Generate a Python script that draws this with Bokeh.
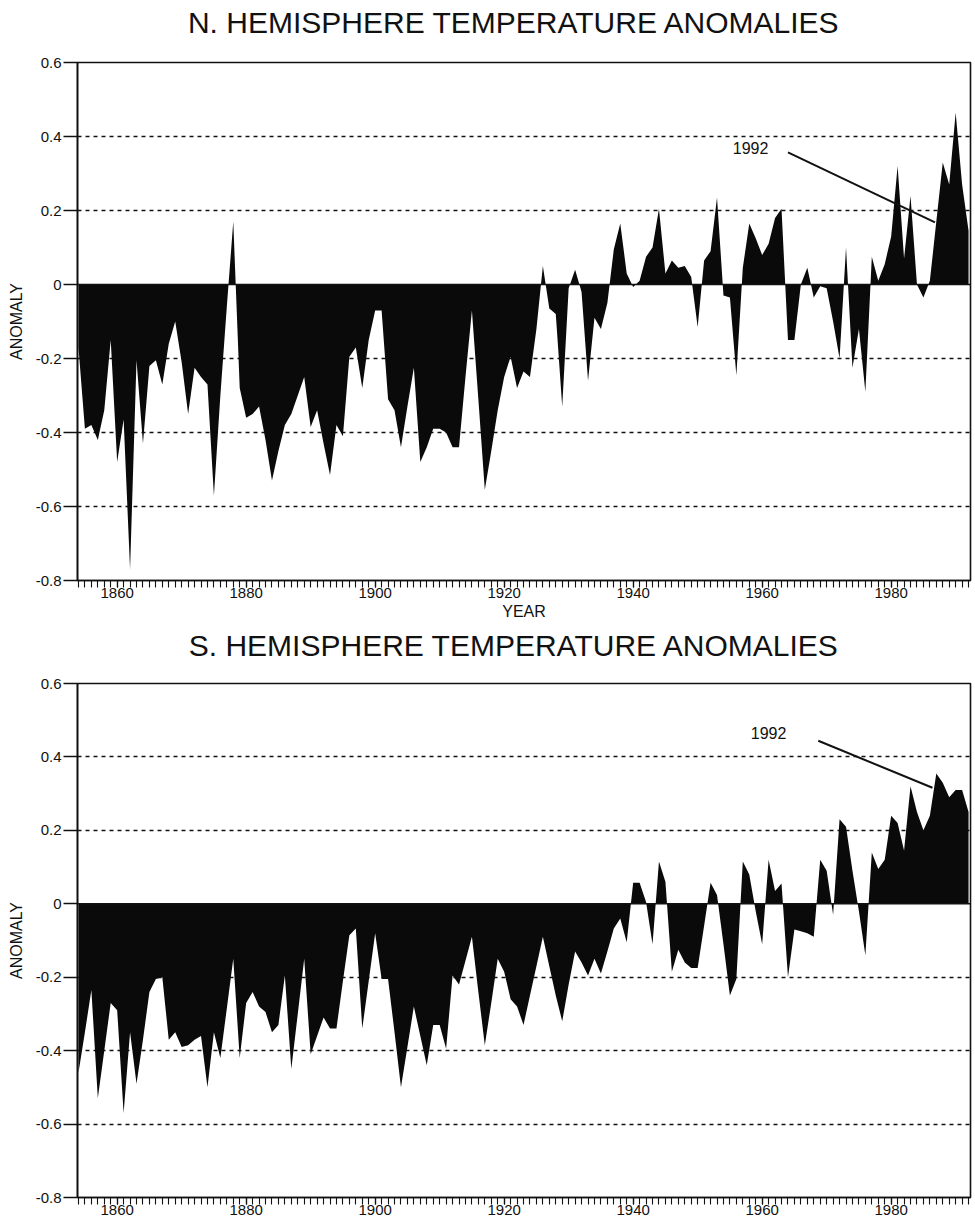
from bokeh.plotting import figure
from bokeh.models import FixedTicker, Range1d, Span, Label, Arrow
from bokeh.layouts import column
from bokeh.embed import file_html
from bokeh.resources import INLINE

years = list(range(1854, 1993))

nh_anomaly = [
    -0.17, -0.39, -0.38, -0.42, -0.34, -0.15,
    -0.48, -0.365, -0.77, -0.205, -0.43, -0.22, -0.205, -0.27, -0.16, -0.10,
    -0.21, -0.35, -0.225, -0.25, -0.27, -0.57, -0.30, -0.06, 0.17, -0.28,
    -0.36, -0.35, -0.33, -0.42, -0.53, -0.45, -0.38, -0.35, -0.30, -0.25,
    -0.385, -0.34, -0.43, -0.515, -0.38, -0.41, -0.195, -0.17, -0.28, -0.15,
    -0.07, -0.07, -0.31, -0.34, -0.44, -0.33, -0.225, -0.48, -0.44, -0.39,
    -0.39, -0.40, -0.44, -0.44, -0.25, -0.07, -0.31, -0.555, -0.45, -0.34,
    -0.25, -0.195, -0.28, -0.235, -0.25, -0.12, 0.05, -0.065, -0.08, -0.33,
    -0.01, 0.04, -0.02, -0.26, -0.09, -0.12, -0.05, 0.095, 0.165, 0.03,
    -0.007, 0.01, 0.075, 0.10, 0.205, 0.03, 0.065, 0.045, 0.05, 0.02,
    -0.115, 0.065, 0.09, 0.235, -0.03, -0.035, -0.245, 0.045, 0.165, 0.125,
    0.08, 0.11, 0.18, 0.205, -0.15, -0.15, 0.0, 0.045, -0.035, -0.005,
    -0.01, -0.10, -0.20, 0.10, -0.225, -0.12, -0.29, 0.075, 0.01, 0.055,
    0.13, 0.32, 0.07, 0.24, 0.0, -0.035, 0.01, 0.17, 0.33, 0.27,
    0.465, 0.27, 0.145,
]

sh_anomaly = [
    -0.46, -0.35, -0.235, -0.53, -0.40, -0.27,
    -0.29, -0.57, -0.35, -0.49, -0.37, -0.24, -0.205, -0.20, -0.37, -0.35,
    -0.39, -0.385, -0.37, -0.36, -0.50, -0.35, -0.42, -0.285, -0.15, -0.42,
    -0.27, -0.24, -0.28, -0.295, -0.35, -0.33, -0.195, -0.45, -0.30, -0.15,
    -0.41, -0.36, -0.31, -0.34, -0.34, -0.21, -0.086, -0.067, -0.34, -0.21,
    -0.08, -0.205, -0.205, -0.35, -0.50, -0.39, -0.28, -0.36, -0.44, -0.33,
    -0.33, -0.395, -0.195, -0.22, -0.155, -0.09, -0.24, -0.385, -0.27, -0.15,
    -0.185, -0.26, -0.28, -0.33, -0.25, -0.17, -0.09, -0.17, -0.25, -0.32,
    -0.22, -0.13, -0.16, -0.195, -0.15, -0.19, -0.13, -0.067, -0.04, -0.105,
    0.057, 0.057, 0.005, -0.11, 0.115, 0.06, -0.185, -0.125, -0.16, -0.175,
    -0.175, -0.06, 0.057, 0.024, -0.11, -0.25, -0.205, 0.115, 0.08, -0.02,
    -0.11, 0.12, 0.035, 0.055, -0.20, -0.07, -0.075, -0.08, -0.09, 0.12,
    0.09, -0.03, 0.23, 0.21, 0.09, -0.02, -0.14, 0.14, 0.095, 0.12,
    0.24, 0.22, 0.145, 0.32, 0.25, 0.20, 0.24, 0.355, 0.33, 0.29,
    0.31, 0.31, 0.25,
]

y_ticks = [-0.8, -0.6, -0.4, -0.2, 0, 0.2, 0.4, 0.6]
y_tick_labels = ["-0.8", "-0.6", "-0.4", "-0.2", "0", "0.2", "0.4", "0.6"]
grid_levels = [-0.6, -0.4, -0.2, 0.2, 0.4]
x_ticks = [1860, 1880, 1900, 1920, 1940, 1960, 1980]

FONT = "Liberation Sans"
INK = "#111111"


def make_title(text, height, center_from_top):
    t = figure(width=975, height=height,
               x_range=Range1d(0, 975), y_range=Range1d(0, height),
               output_backend="svg", toolbar_location=None,
               min_border=0, min_border_left=0, min_border_right=0,
               min_border_top=0, min_border_bottom=0)
    t.axis.visible = False
    t.grid.visible = False
    t.outline_line_color = None
    t.add_layout(Label(x=477, y=height - center_from_top, text=text,
                       text_font=FONT, text_font_size="30px",
                       text_align="center", text_baseline="middle",
                       text_color=INK))
    return t


def make_panel(vals, height, border_top, border_bottom, xlabel, note, note_line):
    p = figure(width=975, height=height,
               x_range=Range1d(1853.85, 1992.3), y_range=Range1d(-0.8, 0.6),
               output_backend="svg", toolbar_location=None,
               min_border_left=77, min_border_right=5,
               min_border_top=border_top, min_border_bottom=border_bottom)

    p.varea(x=years, y1=[0] * len(vals), y2=vals, fill_color="#0a0a0a")

    p.outline_line_color = INK
    p.outline_line_width = 1.6
    p.outline_line_alpha = 1.0

    p.xgrid.visible = False
    p.ygrid.ticker = FixedTicker(ticks=grid_levels)
    p.ygrid.grid_line_color = INK
    p.ygrid.grid_line_dash = "4 4"
    p.ygrid.grid_line_width = 1.5

    p.add_layout(Span(location=0, dimension="width", line_color=INK,
                      line_width=1.6))

    p.yaxis.ticker = FixedTicker(ticks=y_ticks)
    p.yaxis.major_label_overrides = {t: s for t, s in zip(y_ticks, y_tick_labels)}
    p.yaxis.axis_label = "ANOMALY"
    p.yaxis.axis_label_text_font = FONT
    p.yaxis.axis_label_text_font_size = "16px"
    p.yaxis.axis_label_text_font_style = "normal"
    p.yaxis.axis_label_standoff = 8
    p.yaxis.major_label_text_font = FONT
    p.yaxis.major_label_text_font_size = "15px"
    p.yaxis.major_tick_out = 14
    p.yaxis.major_tick_in = 0
    p.yaxis.minor_tick_out = 0
    p.yaxis.major_label_standoff = 2

    p.xaxis.ticker = FixedTicker(ticks=x_ticks, minor_ticks=years)
    p.xaxis.major_label_text_font = FONT
    p.xaxis.major_label_text_font_size = "15px"
    p.xaxis.major_tick_out = 7
    p.xaxis.major_tick_in = 0
    p.xaxis.minor_tick_out = 7
    p.xaxis.minor_tick_in = 0
    p.xaxis.major_label_standoff = 0
    if xlabel:
        p.xaxis.axis_label = xlabel
        p.xaxis.axis_label_text_font = FONT
        p.xaxis.axis_label_text_font_size = "16px"
        p.xaxis.axis_label_text_font_style = "normal"
        p.xaxis.axis_label_standoff = 2

    for ax in (p.xaxis[0], p.yaxis[0]):
        ax.axis_line_color = INK
        ax.axis_line_width = 1.6
        ax.major_tick_line_color = INK
        ax.minor_tick_line_color = INK
        ax.major_tick_line_width = 1.3
        ax.minor_tick_line_width = 1.1
        ax.major_label_text_color = INK
        ax.axis_label_text_color = INK

    nx, ny = note
    p.add_layout(Label(x=nx, y=ny, text="1992", text_font=FONT,
                       text_font_size="16px", text_align="center",
                       text_baseline="middle", text_color=INK))
    (x0, y0), (x1, y1) = note_line
    p.add_layout(Arrow(end=None, x_start=x0, y_start=y0, x_end=x1, y_end=y1,
                       line_color=INK, line_width=2))
    return p


title_top = make_title("N. HEMISPHERE TEMPERATURE ANOMALIES", 50, 22)
top = make_panel(nh_anomaly, 575, 12, 45, "YEAR",
                 (1958.2, 0.37), ((1964.0, 0.357), (1986.8, 0.168)))
title_bottom = make_title("S. HEMISPHERE TEMPERATURE ANOMALIES", 40, 20)
bottom = make_panel(sh_anomaly, 553, 18, 21, None,
                    (1961.0, 0.466), ((1968.7, 0.444), (1986.4, 0.316)))

layout = column(title_top, top, title_bottom, bottom, spacing=0)

with open("out.html", "w") as f:
    f.write(file_html(layout, INLINE))
